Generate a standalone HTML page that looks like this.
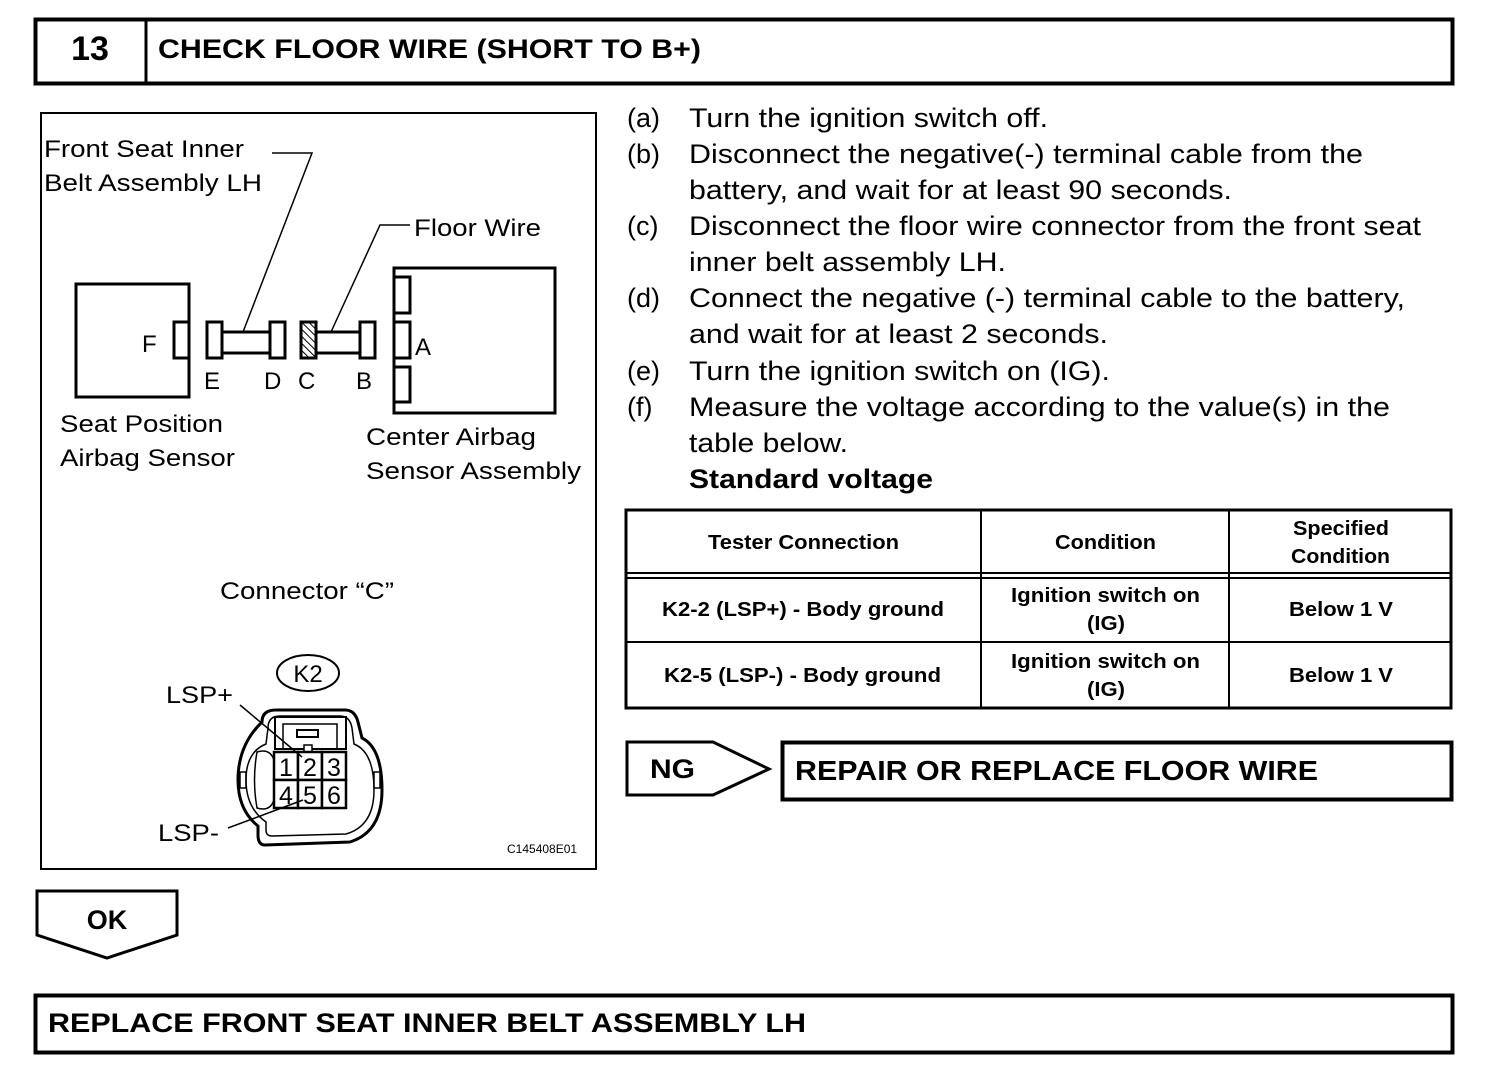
<!DOCTYPE html>
<html><head><meta charset="utf-8"><style>
html,body{margin:0;padding:0;background:#fff;}
svg{display:block;}
text{font-family:"Liberation Sans",Arial,sans-serif;fill:#000;}
.b{font-weight:bold;}
</style></head><body>
<svg width="1504" height="1074" viewBox="0 0 1504 1074" xmlns="http://www.w3.org/2000/svg">
<defs>
<pattern id="h" width="5" height="5" patternUnits="userSpaceOnUse" patternTransform="rotate(-45)">
<rect width="5" height="5" fill="#fff"/><line x1="0" y1="0" x2="0" y2="5" stroke="#000" stroke-width="2"/>
</pattern>
</defs>
<!-- Header -->
<rect x="35.5" y="19.5" width="1417" height="64" fill="none" stroke="#000" stroke-width="4"/>
<line x1="146" y1="19" x2="146" y2="84" stroke="#000" stroke-width="3"/>
<text x="90" y="60" class="b" font-size="34" text-anchor="middle">13</text>
<text x="158" y="58" class="b" font-size="27" textLength="543" lengthAdjust="spacingAndGlyphs">CHECK FLOOR WIRE (SHORT TO B+)</text>

<!-- Diagram frame -->
<rect x="41" y="113" width="555" height="756" fill="none" stroke="#000" stroke-width="2"/>
<g fill="#fff" stroke="#000" stroke-width="3">
<rect x="76" y="284" width="113" height="113"/>
<rect x="174" y="322" width="15" height="36"/>
<rect x="207" y="322" width="15" height="36"/>
<rect x="222" y="332" width="48" height="21"/>
<rect x="270" y="322" width="15" height="36"/>
<rect x="301" y="322" width="15" height="36" fill="url(#h)"/>
<rect x="316" y="332" width="44" height="21"/>
<rect x="360" y="322" width="15" height="36"/>
<rect x="394" y="268" width="161" height="145"/>
<rect x="394" y="277" width="16" height="36"/>
<rect x="394" y="322" width="16" height="36"/>
<rect x="394" y="367" width="16" height="35"/>
</g>
<polyline points="243,332 312,153 272,153" fill="none" stroke="#000" stroke-width="1.5"/>
<polyline points="331,332 380,225 410,225" fill="none" stroke="#000" stroke-width="1.5"/>
<g font-size="24">
<text x="44" y="157" textLength="200" lengthAdjust="spacingAndGlyphs">Front Seat Inner</text>
<text x="44" y="191" textLength="218" lengthAdjust="spacingAndGlyphs">Belt Assembly LH</text>
<text x="414" y="236" textLength="127" lengthAdjust="spacingAndGlyphs">Floor Wire</text>
<text x="60" y="432" textLength="163" lengthAdjust="spacingAndGlyphs">Seat Position</text>
<text x="60" y="466" textLength="175" lengthAdjust="spacingAndGlyphs">Airbag Sensor</text>
<text x="366" y="445" textLength="170" lengthAdjust="spacingAndGlyphs">Center Airbag</text>
<text x="366" y="479" textLength="215" lengthAdjust="spacingAndGlyphs">Sensor Assembly</text>
<text x="220" y="599" textLength="174" lengthAdjust="spacingAndGlyphs">Connector “C”</text>
<text x="166" y="703" textLength="67" lengthAdjust="spacingAndGlyphs">LSP+</text>
<text x="158" y="841" textLength="61" lengthAdjust="spacingAndGlyphs">LSP-</text>
<text x="142" y="352">F</text>
<text x="415" y="355">A</text>
<text x="204" y="389">E</text>
<text x="264" y="389">D</text>
<text x="298" y="389">C</text>
<text x="356" y="389">B</text>
</g>

<!-- K2 connector -->
<ellipse cx="308" cy="673" rx="31" ry="18" fill="none" stroke="#000" stroke-width="2"/>
<text x="308" y="682" font-size="24" text-anchor="middle">K2</text>
<path d="M262,722 Q262,710 276,710 L345,710 Q355,710 358,722 L362,738 Q382,748 382,790 Q382,832 350,842 L265,845 Q258,845 258,835 L258,826 Q238,810 238,780 Q238,745 262,722 Z" fill="none" stroke="#000" stroke-width="3"/>
<path d="M268,728 Q268,716 280,716 L340,716 Q350,716 352,728 L354,744 Q374,752 374,790 Q374,826 346,834 L272,836 Q266,836 266,830 L266,822 Q246,808 246,780 Q246,752 266,744 Z" fill="none" stroke="#000" stroke-width="1.5"/>
<rect x="275" y="717" width="71" height="32" fill="#fff" stroke="#000" stroke-width="2"/>
<polyline points="283,749 283,724 337,724 337,749" fill="none" stroke="#000" stroke-width="1.5"/>
<rect x="297" y="730" width="21" height="7" fill="none" stroke="#000" stroke-width="2"/>
<rect x="304" y="745" width="8" height="7" fill="#fff" stroke="#000" stroke-width="1.5"/>
<path d="M257,752 Q270,748 274,760 L274,800 Q270,812 257,808 Q252,780 257,752Z" fill="none" stroke="#000" stroke-width="1.5"/>
<rect x="240" y="772" width="6" height="16" fill="none" stroke="#000" stroke-width="1.5"/>
<rect x="374" y="772" width="6" height="16" fill="none" stroke="#000" stroke-width="1.5"/>
<g fill="#fff" stroke="#000" stroke-width="2.5">
<rect x="274" y="752" width="24" height="28"/><rect x="298" y="752" width="24" height="28"/><rect x="322" y="752" width="24" height="28"/>
<rect x="274" y="780" width="24" height="28"/><rect x="298" y="780" width="24" height="28"/><rect x="322" y="780" width="24" height="28"/>
</g>
<g font-size="25" text-anchor="middle">
<text x="286" y="776">1</text><text x="310" y="776">2</text><text x="334" y="776">3</text>
<text x="286" y="804">4</text><text x="310" y="804">5</text><text x="334" y="804">6</text>
</g>
<line x1="240" y1="705" x2="302" y2="757" stroke="#000" stroke-width="1.5"/>
<line x1="228" y1="828" x2="303" y2="800" stroke="#000" stroke-width="1.5"/>
<text x="507" y="853" font-size="12">C145408E01</text>

<!-- Steps -->
<g font-size="27">
<text x="627" y="127">(a)</text><text x="689" y="127" textLength="359" lengthAdjust="spacingAndGlyphs">Turn the ignition switch off.</text>
<text x="627" y="163">(b)</text><text x="689" y="163" textLength="674" lengthAdjust="spacingAndGlyphs">Disconnect the negative(-) terminal cable from the</text>
<text x="689" y="199" textLength="543" lengthAdjust="spacingAndGlyphs">battery, and wait for at least 90 seconds.</text>
<text x="627" y="235">(c)</text><text x="689" y="235" textLength="732" lengthAdjust="spacingAndGlyphs">Disconnect the floor wire connector from the front seat</text>
<text x="689" y="271" textLength="317" lengthAdjust="spacingAndGlyphs">inner belt assembly LH.</text>
<text x="627" y="307">(d)</text><text x="689" y="307" textLength="716" lengthAdjust="spacingAndGlyphs">Connect the negative (-) terminal cable to the battery,</text>
<text x="689" y="343" textLength="419" lengthAdjust="spacingAndGlyphs">and wait for at least 2 seconds.</text>
<text x="627" y="380">(e)</text><text x="689" y="380" textLength="421" lengthAdjust="spacingAndGlyphs">Turn the ignition switch on (IG).</text>
<text x="627" y="416">(f)</text><text x="689" y="416" textLength="701" lengthAdjust="spacingAndGlyphs">Measure the voltage according to the value(s) in the</text>
<text x="689" y="452" textLength="159" lengthAdjust="spacingAndGlyphs">table below.</text>
<text x="689" y="488" class="b" textLength="244" lengthAdjust="spacingAndGlyphs">Standard voltage</text>
</g>

<!-- Table -->
<rect x="626" y="510" width="825" height="198" fill="none" stroke="#000" stroke-width="3"/>
<line x1="981" y1="510" x2="981" y2="708" stroke="#000" stroke-width="2"/>
<line x1="1229" y1="510" x2="1229" y2="708" stroke="#000" stroke-width="2"/>
<line x1="626" y1="573" x2="1451" y2="573" stroke="#000" stroke-width="2"/>
<line x1="626" y1="578" x2="1451" y2="578" stroke="#000" stroke-width="2"/>
<line x1="626" y1="642" x2="1451" y2="642" stroke="#000" stroke-width="2"/>
<g class="b" font-size="20" font-weight="bold">
<text x="708" y="549" textLength="191" lengthAdjust="spacingAndGlyphs">Tester Connection</text>
<text x="1055" y="549" textLength="101" lengthAdjust="spacingAndGlyphs">Condition</text>
<text x="1293" y="535" textLength="96" lengthAdjust="spacingAndGlyphs">Specified</text>
<text x="1291" y="563" textLength="99" lengthAdjust="spacingAndGlyphs">Condition</text>
<text x="662" y="616" textLength="282" lengthAdjust="spacingAndGlyphs">K2-2 (LSP+) - Body ground</text>
<text x="1011" y="602" textLength="189" lengthAdjust="spacingAndGlyphs">Ignition switch on</text>
<text x="1087" y="630" textLength="38" lengthAdjust="spacingAndGlyphs">(IG)</text>
<text x="1289" y="616" textLength="104" lengthAdjust="spacingAndGlyphs">Below 1 V</text>
<text x="664" y="682" textLength="277" lengthAdjust="spacingAndGlyphs">K2-5 (LSP-) - Body ground</text>
<text x="1011" y="668" textLength="189" lengthAdjust="spacingAndGlyphs">Ignition switch on</text>
<text x="1087" y="696" textLength="38" lengthAdjust="spacingAndGlyphs">(IG)</text>
<text x="1289" y="682" textLength="104" lengthAdjust="spacingAndGlyphs">Below 1 V</text>
</g>

<!-- NG -->
<polygon points="627,742 713,742 769,769 713,795 627,795" fill="none" stroke="#000" stroke-width="3"/>
<text x="650" y="778" class="b" font-size="27" textLength="45" lengthAdjust="spacingAndGlyphs">NG</text>
<rect x="782.5" y="742.5" width="669" height="57" fill="none" stroke="#000" stroke-width="4"/>
<text x="795" y="780" class="b" font-size="28" textLength="523" lengthAdjust="spacingAndGlyphs">REPAIR OR REPLACE FLOOR WIRE</text>

<!-- OK -->
<polygon points="37,891 177,891 177,935 107,958 37,935" fill="none" stroke="#000" stroke-width="3"/>
<text x="107" y="929" class="b" font-size="27" text-anchor="middle">OK</text>

<!-- Bottom -->
<rect x="35.5" y="995.5" width="1417" height="57" fill="none" stroke="#000" stroke-width="4"/>
<text x="48" y="1032" class="b" font-size="27" textLength="758" lengthAdjust="spacingAndGlyphs">REPLACE FRONT SEAT INNER BELT ASSEMBLY LH</text>
</svg>
</body></html>
